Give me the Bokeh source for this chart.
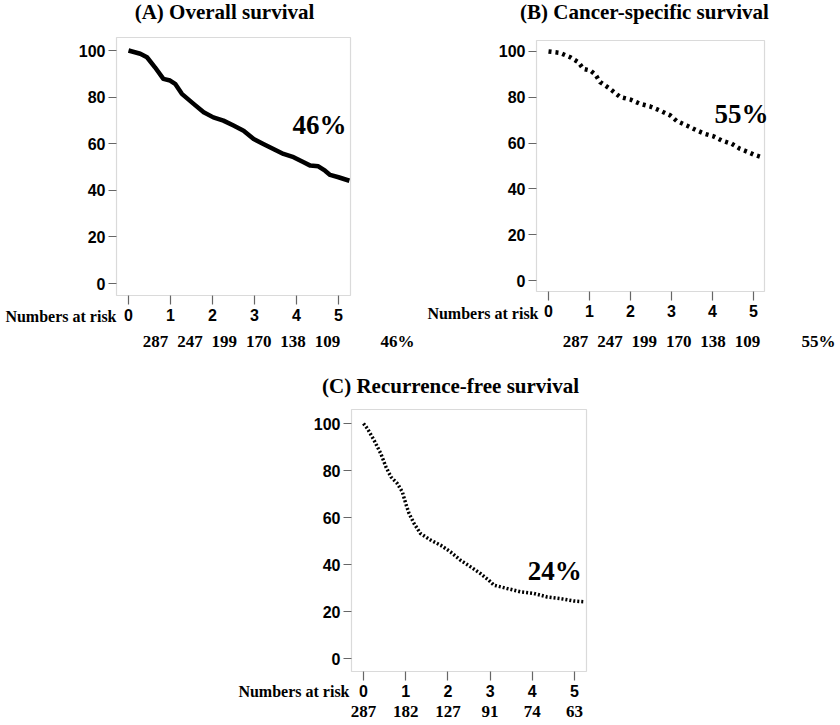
from bokeh.plotting import figure
from bokeh.models import Label, FixedTicker, Range1d, BoxAnnotation
from bokeh.layouts import column, row
from bokeh.embed import file_html
from bokeh.resources import INLINE

# ---------------- data ----------------
years = [0, 1, 2, 3, 4, 5]
y_ticks = [0, 20, 40, 60, 80, 100]

os_t = [0, 0.28, 0.44, 0.63, 0.83, 0.99, 1.11, 1.27, 1.55, 1.79, 2.02, 2.26, 2.5,
        2.74, 2.98, 3.21, 3.45, 3.69, 3.93, 4.17, 4.33, 4.52, 4.68, 4.8, 5.0, 5.26]
os_s = [100, 98.6, 97.1, 92.8, 87.8, 87.1, 85.7, 81.4, 77.1, 73.5, 71.3, 69.9, 67.8,
        65.6, 62.0, 59.9, 57.7, 55.6, 54.2, 52.0, 50.6, 50.3, 48.4, 46.6, 45.6, 44.1]

css_t = [0, 0.28, 0.53, 0.73, 0.85, 1.02, 1.14, 1.26, 1.5, 1.75, 2.0, 2.24, 2.48,
         2.72, 2.97, 3.13, 3.37, 3.62, 3.82, 4.02, 4.23, 4.47, 4.67, 4.88, 5.0, 5.24]
css_s = [100, 99.4, 97.5, 95.3, 92.4, 91.7, 90.0, 86.6, 83.7, 80.1, 79.0, 77.1, 76.0,
         74.2, 72.1, 69.6, 67.7, 65.5, 64.0, 63.0, 61.1, 59.7, 57.5, 56.0, 55.0, 53.6]

rfs_t = [0, 0.09, 0.25, 0.41, 0.53, 0.65, 0.8, 0.92, 1.0, 1.08, 1.2, 1.35, 1.59, 1.83,
         2.06, 2.3, 2.54, 2.77, 2.97, 3.09, 3.4, 3.72, 4.03, 4.35, 4.66, 4.98, 5.25]
rfs_s = [100, 97.9, 92.9, 87.2, 81.6, 77.3, 74.5, 70.9, 66.0, 61.7, 57.4, 53.2, 50.4, 48.2,
         45.4, 41.8, 39.0, 36.2, 33.3, 31.2, 29.8, 28.4, 27.7, 26.2, 25.5, 24.5, 24.1]

titles = ["(A) Overall survival", "(B) Cancer-specific survival", "(C) Recurrence-free survival"]
pct_labels = ["46%", "55%", "24%"]
risk_os = ["287", "247", "199", "170", "138", "109"]
risk_css = ["287", "247", "199", "170", "138", "109"]
risk_rfs = ["287", "182", "127", "91", "74", "63"]
risk_header = "Numbers at risk"

SERIF = "Liberation Serif"
SANS = "Liberation Sans"


def make_panel(W, H, box_px, box_data):
    """box_px = (left, top, right, bottom) in canvas pixels; box_data = (x0, x1, y0, y1)."""
    bx0, by0, bx1, by1 = box_px
    dx0, dx1, dy0, dy1 = box_data
    kx = (bx1 - bx0) / (dx1 - dx0)
    ky = (by1 - by0) / (dy1 - dy0)
    xr = Range1d(dx0 - bx0 / kx, dx1 + (W - bx1) / kx)
    yr = Range1d(dy0 - (H - by1) / ky, dy1 + by0 / ky)
    p = figure(output_backend="svg", toolbar_location=None, width=W, height=H,
               x_range=xr, y_range=yr, min_border=0)
    p.title.visible = False
    p.grid.visible = False
    p.outline_line_color = None
    p.background_fill_color = "white"
    p.border_fill_color = "white"
    p.add_layout(BoxAnnotation(left=dx0, right=dx1, bottom=dy0, top=dy1,
                               fill_alpha=0, line_color="#858585", line_width=1.2))
    for ax, ticks in ((p.xaxis, years), (p.yaxis, y_ticks)):
        ax.ticker = FixedTicker(ticks=ticks)
        ax.axis_line_color = None
        ax.minor_tick_line_color = None
        ax.major_tick_line_color = "#666666"
        ax.major_tick_line_width = 1.2
        ax.major_tick_in = 0
        ax.major_label_text_font = SANS
        ax.major_label_text_font_style = "bold"
        ax.major_label_text_font_size = "16px"
        ax.major_label_text_color = "black"
    p.xaxis.fixed_location = dy0
    p.yaxis.fixed_location = dx0
    p.xaxis.major_tick_out = 9
    p.xaxis.major_label_standoff = 4
    p.yaxis.major_tick_out = 8
    p.yaxis.major_label_standoff = 3
    return p


def add_text(p, H, cx, cy, text, size, align="center", style="bold"):
    """cx, cy: canvas pixels from the figure's top-left corner."""
    p.add_layout(Label(x=cx, y=H - cy, x_units="screen", y_units="screen", text=text,
                       text_font=SERIF, text_font_style=style,
                       text_font_size=size, text_align=align,
                       text_baseline="middle", text_color="black"))


def add_data_text(p, x, y, text, size):
    p.add_layout(Label(x=x, y=y, text=text, text_font=SERIF, text_font_style="bold",
                       text_font_size=size, text_align="center",
                       text_baseline="middle", text_color="black"))


RISK_STEP = 34.4

# ---------- Panel A ----------
WA, HA = 420, 360
pA = make_panel(WA, HA, (116, 37, 350, 295), (-0.286, 5.286, -5.15, 105.58))
pA.line(os_t, os_s, line_color="black", line_width=4.5, line_join="round")
add_text(pA, HA, 224, 11, titles[0], "21px")
add_data_text(pA, 4.55, 68.2, pct_labels[0], "27px")
add_text(pA, HA, 116, 316, risk_header, "16px", align="right")
for i, n in enumerate(risk_os):
    add_text(pA, HA, 155 + i * RISK_STEP, 341, n, "17px")
add_text(pA, HA, 397, 341, pct_labels[0], "17px")

# ---------- Panel B ----------
WB, HB = 420, 360
pB = make_panel(WB, HB, (116, 40, 344, 291), (-0.293, 5.268, -4.8, 104.8))
pB.line(css_t, css_s, line_color="black", line_width=4.5, line_dash="3 4")
add_text(pB, HB, 224, 11, titles[1], "21px")
add_data_text(pB, 4.71, 72.5, pct_labels[1], "27px")
add_text(pB, HB, 118, 313, risk_header, "16px", align="right")
for i, n in enumerate(risk_css):
    add_text(pB, HB, 155 + i * RISK_STEP, 341, n, "17px")
add_text(pB, HB, 398, 341, pct_labels[1], "17px")

# ---------- Panel C ----------
WC, HC = 840, 364
pC = make_panel(WC, HC, (351, 49, 586, 311), (-0.284, 5.284, -5.53, 105.96))
pC.line(rfs_t, rfs_s, line_color="black", line_width=3.5, line_dash="2 2")
add_text(pC, HC, 450, 25, titles[2], "21px")
add_data_text(pC, 4.53, 37.4, pct_labels[2], "27px")
add_text(pC, HC, 349, 331, risk_header, "16px", align="right")
for x_, n in zip(years, risk_rfs):
    add_data_text(pC, x_, -22.4, n, "17px")

layout = column(row(pA, pB), pC)
open("out.html", "w").write(file_html(layout, INLINE))
